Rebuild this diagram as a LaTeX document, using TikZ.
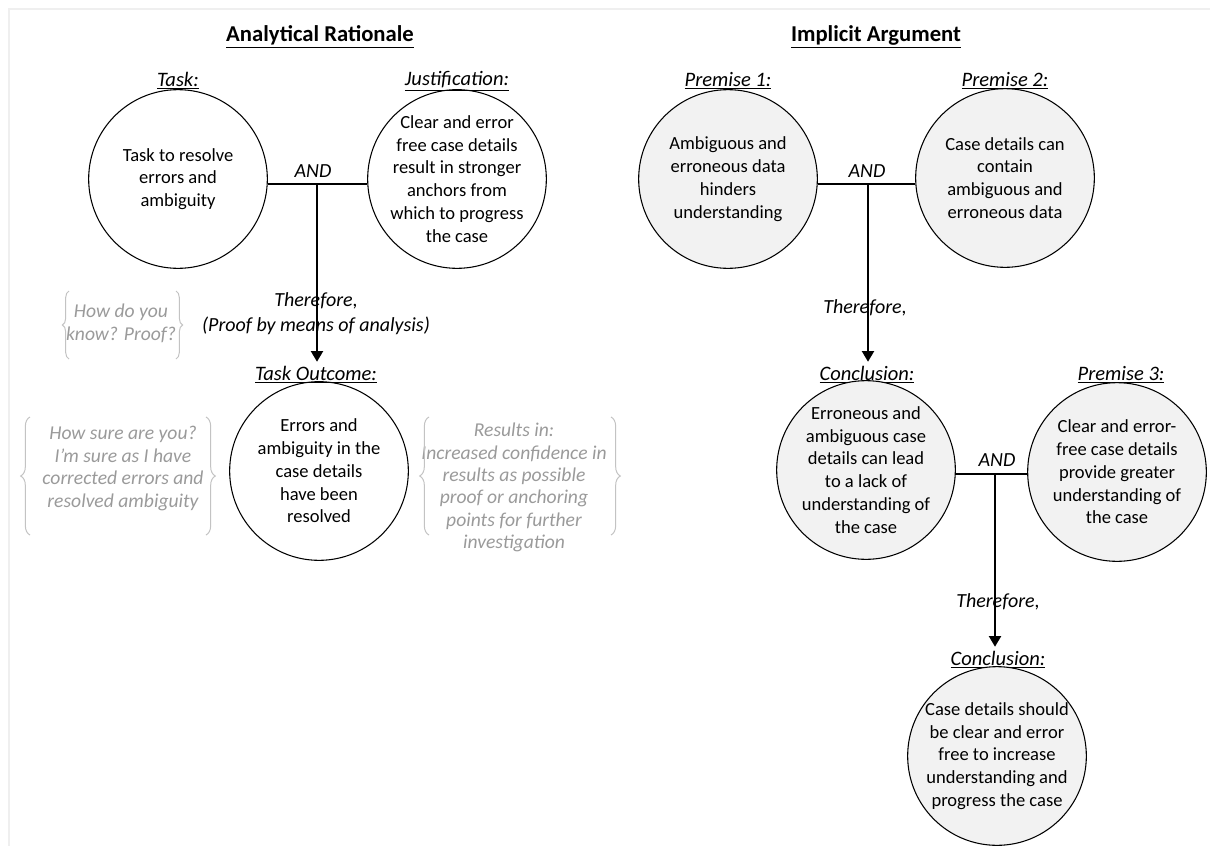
\documentclass[tikz,border=0pt]{standalone}
\usepackage{fontspec}
\setmainfont{Carlito}
\usetikzlibrary{arrows.meta,decorations.pathreplacing}
\definecolor{notegray}{HTML}{9A9A9A}
\definecolor{bracegray}{HTML}{C3C3C3}
\definecolor{framegray}{HTML}{EFEFEF}
\definecolor{bubblefill}{HTML}{F2F2F2}
\begin{document}
\begin{tikzpicture}[x=0.75pt,y=-0.75pt,
  claim/.style={circle,draw=black,line width=0.8pt,minimum size=134pt,inner sep=-12pt,
    align=center,font=\fontsize{13.9pt}{17.1pt}\selectfont},
  shaded/.style={claim,fill=bubblefill},
  heading/.style={font=\fontsize{17pt}{20pt}\selectfont\bfseries},
  tag/.style={font=\fontsize{15.4pt}{18pt}\selectfont\itshape},
  conn/.style={font=\fontsize{15pt}{18pt}\selectfont\itshape},
  connector/.style={line width=1.5pt},
  flow/.style={connector,-{Triangle[width=9pt,length=8pt]}},
  note/.style={align=center,text=notegray,font=\fontsize{14.7pt}{16.8pt}\selectfont\itshape},
  curly/.style={draw=bracegray,line width=0.75pt,decorate,decoration={brace,amplitude=#1}},
]
\useasboundingbox (0,0) rectangle (1210,846);
% page frame
\draw[framegray,line width=1.2pt] (9,846) -- (9,9) -- (1210,9);

% ---------- Analytical Rationale ----------
\node[heading] (t1) at (320,37) {\underline{Analytical Rationale}};

\node[tag] (ltask) at (178,81) {\underline{Task:}};
\node[claim] (task) at (178,179) {Task to resolve\\errors and\\ambiguity};
\node[tag] (ljust) at (457,81) {\underline{Justification:}};
\node[claim] (just) at (457,179) {Clear and error\\free case details\\result in stronger\\anchors from\\which to progress\\the case};

\coordinate (j1) at (317,184);
\draw[connector] (task.east |- j1) -- (just.west |- j1);
\node[conn] (and1) at (313,171) {AND};

\node[tag] (lout) at (316,375) {\underline{Task Outcome:}};
\draw[flow] (j1) -- (j1 |- lout.north);
\node[conn] (th1) at (316,301) {Therefore,};
\node[conn] (pr1) at (316,326) {(Proof by means of analysis)};
\node[claim] (out) at (319,471) {Errors and\\ambiguity in the\\case details\\have been\\resolved};

% side notes
\node[note] (n1) at (121,323.5) {How do you\\know? Proof?};
\draw[curly=5pt] (69,359) -- (69,291);
\draw[curly=5pt] (176,291) -- (176,359);

\node[note] (n2) at (123,468.5) {How sure are you?\\I’m sure as I have\\corrected errors and\\resolved ambiguity};
\draw[curly=7pt] (30,535) -- (30,417);
\draw[curly=7pt] (206,417) -- (206,535);

\node[note] (n3) at (514,487.5) {Results in:\\Increased confidence in\\results as possible\\proof or anchoring\\points for further\\investigation};
\draw[curly=7pt] (429,535) -- (429,417);
\draw[curly=7pt] (611,417) -- (611,535);

% ---------- Implicit Argument ----------
\node[heading] (t2) at (876,37) {\underline{Implicit Argument}};

\node[tag] (lp1) at (728,81) {\underline{Premise 1:}};
\node[shaded] (p1) at (728,179) {Ambiguous and\\erroneous data\\hinders\\understanding};
\node[tag] (lp2) at (1005,81) {\underline{Premise 2:}};
\node[shaded] (p2) at (1005,178) {Case details can\\contain\\ambiguous and\\erroneous data};

\coordinate (j2) at (868,184);
\draw[connector] (p1.east |- j2) -- (p2.west |- j2);
\node[conn] (and2) at (867,171) {AND};

\node[tag] (lc1) at (867,375) {\underline{Conclusion:}};
\draw[flow] (j2) -- (j2 |- lc1.north);
\node[conn] (th2) at (865,308) {Therefore,};
\node[shaded] (c1) at (866,470) {Erroneous and\\ambiguous case\\details can lead\\to a lack of\\understanding of\\the case};

\node[tag] (lp3) at (1121,375) {\underline{Premise 3:}};
\node[shaded] (p3) at (1117,472) {Clear and error-\\free case details\\provide greater\\understanding of\\the case};

\coordinate (j3) at (995,474);
\draw[connector] (c1.east |- j3) -- (p3.west |- j3);
\node[conn] (and3) at (997,460) {AND};

\node[tag] (lc2) at (998,660) {\underline{Conclusion:}};
\draw[flow] (j3) -- (j3 |- lc2.north);
\node[conn] (th3) at (998,602) {Therefore,};
\node[shaded] (c2) at (997,756) {Case details should\\be clear and error\\free to increase\\understanding and\\progress the case};
\end{tikzpicture}
\end{document}
